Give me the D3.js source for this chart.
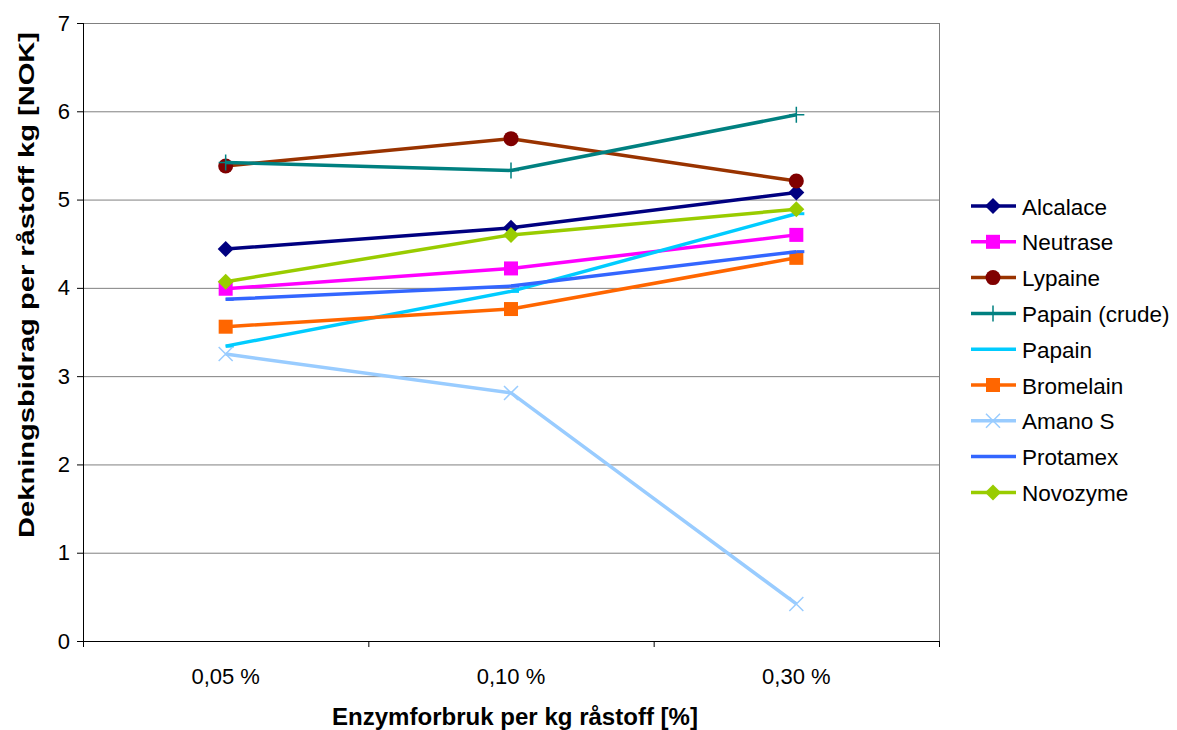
<!DOCTYPE html>
<html><head><meta charset="utf-8">
<script src="https://cdn.jsdelivr.net/npm/d3@7"></script>
<style>body{margin:0;background:#fff}svg{display:block;font-family:"Liberation Sans",Arial,sans-serif}</style>
</head><body><svg id="c" width="1177" height="730"></svg>
<script>
const categories = ["0,05 %", "0,10 %", "0,30 %"];
const seriesNames = ["Alcalace","Neutrase","Lypaine","Papain (crude)","Papain","Bromelain","Amano S","Protamex","Novozyme"];
const alcalace = [4.44, 4.68, 5.08];
const neutrase = [3.99, 4.22, 4.60];
const lypaine = [5.38, 5.69, 5.21];
const papainCrude = [5.42, 5.33, 5.96];
const papain = [3.34, 3.96, 4.84];
const bromelain = [3.56, 3.76, 4.34];
const amanoS = [3.25, 2.81, 0.42];
const protamex = [3.87, 4.02, 4.41];
const novozyme = [4.07, 4.60, 4.89];
const yTicks = [0,1,2,3,4,5,6,7];
const lineColors = ["#000080","#FF00FF","#993300","#008080","#00CCFF","#FF6600","#99CCFF","#3366FF","#99CC00"];
const markerColors = ["#000080","#FF00FF","#800000","#008080","#00CCFF","#FF6600","#99CCFF","#3366FF","#99CC00"];
const markerTypes = ["diamond","square","circle","plus","dash","square","x","dash","diamond"];
const allValues = [alcalace,neutrase,lypaine,papainCrude,papain,bromelain,amanoS,protamex,novozyme];

const svg = d3.select("#c");
const L=83, R=939, T=23, B=641;
const x = d3.scaleBand().domain(categories).range([L,R]);
const y = d3.scaleLinear().domain([0,7]).range([B,T]);

// gridlines
svg.append("g").selectAll("line").data(yTicks.filter(d=>d>0)).join("line")
  .attr("x1",L).attr("x2",R).attr("y1",d=>y(d)+0.5).attr("y2",d=>y(d)+0.5)
  .attr("stroke","#808080").attr("stroke-width",1);
// right border
svg.append("line").attr("x1",R+0.5).attr("x2",R+0.5).attr("y1",T).attr("y2",B)
  .attr("stroke","#808080").attr("stroke-width",1);

// y axis
const ya = svg.append("g").attr("transform",`translate(${L},0)`)
  .call(d3.axisLeft(y).tickValues(yTicks).tickSize(6).tickPadding(7).tickFormat(d3.format("d")));
ya.select(".domain").attr("stroke","#000").attr("d",`M0.5,${B}V${T}`);
ya.selectAll(".tick line").attr("stroke","#000");
ya.selectAll("text").attr("font-size",22).attr("fill","#000").attr("font-family","Liberation Sans, Arial, sans-serif");

// x axis
const xa = svg.append("g").attr("transform",`translate(0,${B})`)
  .call(d3.axisBottom(x).tickSize(0));
xa.select(".domain").attr("stroke","#000").attr("d",`M${L},0.5H${R}`);
xa.selectAll(".tick line").remove();
xa.selectAll("text").attr("font-size",22).attr("fill","#000").attr("y",43).attr("dy",0)
  .attr("font-family","Liberation Sans, Arial, sans-serif");
// category boundary ticks
const bounds = categories.map(c=>x(c)).concat([R]);
svg.append("g").selectAll("line").data(bounds).join("line")
  .attr("x1",d=>d+0.5).attr("x2",d=>d+0.5).attr("y1",B).attr("y2",B+6).attr("stroke","#000");

// axis titles
svg.append("text").attr("x",515).attr("y",725).attr("text-anchor","middle")
  .attr("font-size",23).attr("font-weight","bold")
  .attr("textLength",366).attr("lengthAdjust","spacingAndGlyphs")
  .text("Enzymforbruk per kg råstoff [%]");
svg.append("text").attr("transform",`translate(34,285) rotate(-90)`).attr("text-anchor","middle")
  .attr("font-size",22).attr("font-weight","bold")
  .attr("textLength",506).attr("lengthAdjust","spacingAndGlyphs")
  .text("Dekningsbidrag per råstoff kg [NOK]");

function drawMarker(g, type, cx, cy, color){
  if(type==="diamond"){
    g.append("path").attr("d",`M${cx},${cy-8}L${cx+8},${cy}L${cx},${cy+8}L${cx-8},${cy}Z`).attr("fill",color);
  } else if(type==="square"){
    g.append("rect").attr("x",cx-7).attr("y",cy-7).attr("width",14).attr("height",14).attr("fill",color);
  } else if(type==="circle"){
    g.append("circle").attr("cx",cx).attr("cy",cy).attr("r",7.5).attr("fill",color);
  } else if(type==="plus"){
    g.append("path").attr("d",`M${cx-7},${cy}H${cx+8}M${cx},${cy-8}V${cy+8}`).attr("stroke",color).attr("stroke-width",1.5).attr("fill","none");
  } else if(type==="x"){
    g.append("path").attr("d",`M${cx-7},${cy-7}L${cx+7},${cy+7}M${cx-7},${cy+7}L${cx+7},${cy-7}`).attr("stroke",color).attr("stroke-width",1.5).attr("fill","none");
  } else if(type==="dash"){
    g.append("path").attr("d",`M${cx},${cy}H${cx+8}`).attr("stroke",color).attr("stroke-width",3).attr("fill","none");
  }
}

const line = d3.line().x((d,i)=>x(categories[i])+x.bandwidth()/2).y(d=>y(d));
seriesNames.forEach((name,si)=>{
  const g = svg.append("g");
  g.append("path").datum(allValues[si]).attr("d",line).attr("fill","none")
    .attr("stroke",lineColors[si]).attr("stroke-width",3.5).attr("stroke-linejoin","round");
  allValues[si].forEach((v,i)=>drawMarker(g, markerTypes[si], x(categories[i])+x.bandwidth()/2, y(v), markerColors[si]));
});

// legend
const lg = svg.append("g");
seriesNames.forEach((name,si)=>{
  const ly = 206 + si*35.8;
  lg.append("line").attr("x1",971).attr("x2",1016).attr("y1",ly).attr("y2",ly)
    .attr("stroke",lineColors[si]).attr("stroke-width",3.5);
  if(markerTypes[si]!=="dash") drawMarker(lg, markerTypes[si], 993, ly, markerColors[si]);
  lg.append("text").attr("x",1022).attr("y",ly+8.5).attr("font-size",22.5).attr("fill","#000").text(name);
});
</script></body></html>
